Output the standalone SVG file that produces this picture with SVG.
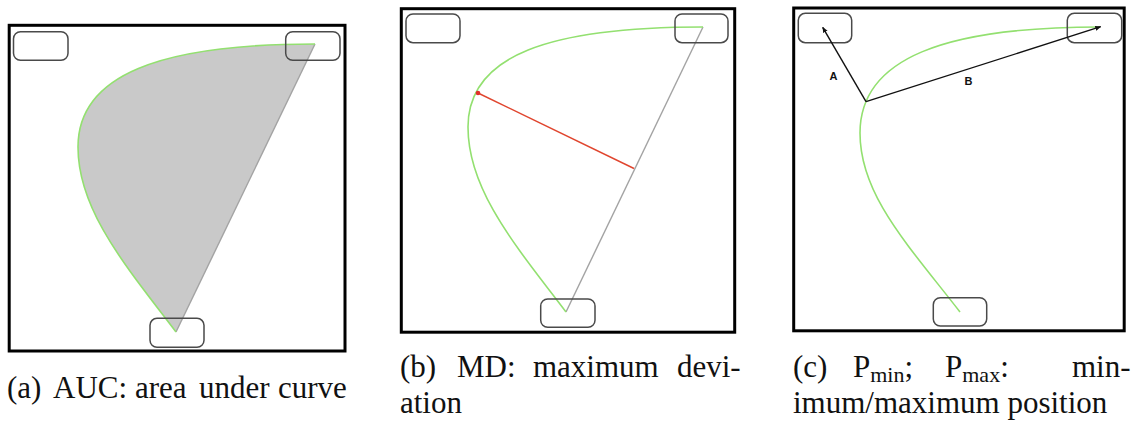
<svg xmlns="http://www.w3.org/2000/svg" width="1131" height="421" viewBox="0 0 1131 421">
<defs>
<style>
.frame{fill:none;stroke:#000;stroke-width:3}
.node{fill:none;stroke:#4a4a4a;stroke-width:1.5}
.traj{fill:none;stroke:#93e070;stroke-width:1.6}
.ideal{fill:none;stroke:#a3a3a3;stroke-width:1.4}
.cap{font-family:"Liberation Serif",serif;font-size:31px;fill:#111}
.sub{font-size:22px}
.lbl{font-family:"Liberation Sans",Arial,sans-serif;font-size:11px;font-weight:bold;fill:#111;text-anchor:middle}
.vec{stroke:#111;stroke-width:1.4;fill:none;marker-end:url(#ah)}
</style>
<marker id="ah" viewBox="0 0 10 10" refX="9" refY="5" markerWidth="6" markerHeight="6" orient="auto" markerUnits="userSpaceOnUse">
<path d="M0,1 L10,5 L0,9 z" fill="#111"/>
</marker>
</defs>
<rect width="1131" height="421" fill="#fff"/>

<!-- Panel (a) -->
<g id="panel-a">
<rect class="frame" x="9.2" y="25.3" width="335.8" height="325.7"/>
<path d="M176,332 C125,265 78,210 78,147 C78,75 160,44 315,44 Z" fill="#c9c9c9" stroke="none"/>
<line class="ideal" x1="315" y1="44" x2="176" y2="332"/>
<path class="traj" d="M176,332 C125,265 78,210 78,147 C78,75 160,44 315,44"/>
</g>
<g id="a-start"><rect class="node" x="150" y="318.3" width="54" height="29" rx="7"/></g>
<g id="a-left"><rect class="node" x="13.5" y="31.7" width="54.5" height="28.6" rx="7"/></g>
<g id="a-right"><rect class="node" x="285.7" y="31.7" width="54.3" height="28.6" rx="7"/></g>

<!-- Panel (b) -->
<g id="panel-b">
<rect class="frame" x="401.3" y="8.7" width="333.4" height="323.5"/>
<line class="ideal" x1="703" y1="27" x2="566" y2="312"/>
<path class="traj" d="M566,312 C515,245 468,190 468,127 C468,55 550,27 703,27"/>
<line x1="478" y1="93" x2="634" y2="168.5" stroke="#e0452e" stroke-width="1.5"/>
<circle cx="478" cy="93" r="2.3" fill="#e0302a"/>
</g>
<g id="b-start"><rect class="node" x="540.7" y="299" width="54.3" height="28.3" rx="7"/></g>
<g id="b-left"><rect class="node" x="406" y="14" width="54" height="28.7" rx="7"/></g>
<g id="b-right"><rect class="node" x="675" y="14" width="53" height="28.7" rx="7"/></g>

<!-- Panel (c) -->
<g id="panel-c">
<rect class="frame" x="793.7" y="8" width="330.5" height="322.8"/>
<path class="traj" d="M960,312 C908,245 860,195 860,133 C860,58 945,27 1100,27"/>
</g>
<g id="c-start"><rect class="node" x="933.3" y="297.7" width="53.4" height="28.3" rx="7"/></g>
<g id="c-left"><rect class="node" x="798.3" y="13.3" width="53.4" height="29.4" rx="7"/></g>
<g id="c-right"><rect class="node" x="1067.3" y="13.3" width="54.4" height="29.4" rx="7"/></g>

<g id="connectors">
<line class="vec" x1="866" y1="101.7" x2="822.7" y2="27.3"/>
<line class="vec" x1="866" y1="101.7" x2="1100.7" y2="26.7"/>
<text class="lbl" x="833.5" y="80">A</text>
<text class="lbl" x="968.5" y="85">B</text>
</g>

<!-- Captions -->
<g id="captions">
<text class="cap" y="397.7"><tspan x="7">(a)</tspan><tspan x="53">AUC:</tspan><tspan x="135">area</tspan><tspan x="199">under</tspan><tspan x="278">curve</tspan></text>
<text class="cap" y="376.7"><tspan x="400">(b)</tspan><tspan x="457">MD:</tspan><tspan x="533">maximum</tspan><tspan x="677">devi-</tspan></text>
<text class="cap" x="400" y="413.3">ation</text>
<text class="cap" y="376.7"><tspan x="793">(c)</tspan><tspan x="853">P</tspan><tspan class="sub" dy="5">min</tspan><tspan dy="-5">;</tspan><tspan x="945">P</tspan><tspan class="sub" dy="5">max</tspan><tspan dy="-5">:</tspan><tspan x="1072">min-</tspan></text>
<text class="cap" x="793" y="413.3">imum/maximum position</text>
</g>
</svg>
